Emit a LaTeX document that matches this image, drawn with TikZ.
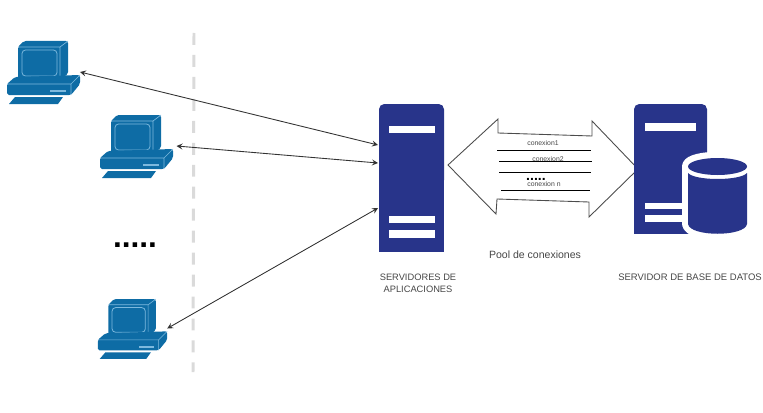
\documentclass[tikz,border=0pt]{standalone}
\usepackage{xcolor}
\usepackage{fontspec}
\setmainfont{Liberation Sans}
\usetikzlibrary{arrows,positioning,calc}
\definecolor{pcblue}{RGB}{14,108,165}
\definecolor{pcline}{RGB}{125,185,222}
\definecolor{serverblue}{RGB}{40,52,138}
\definecolor{dashgray}{RGB}{218,218,218}
\definecolor{labelgray}{RGB}{70,70,70}
\tikzset{
    pcbox/.style={inner sep=0pt, outer sep=0pt, minimum width=1.46cm, minimum height=1.28cm},
    link/.style={<->, >=stealth, black!80, line width=0.5pt},
    label/.style={labelgray, inner sep=0pt, align=center},
    poolline/.style={black, line width=0.45pt},
}
% computer drawn around the centre of its node: #1 position, #2 scale
\newcommand{\pcicon}[2]{
    \begin{scope}[shift={#1}, scale=#2, shift={(-36.5,-32)}]
        \fill[pcblue, rounded corners=1pt] (11,7) -- (17,1) -- (61,1) -- (61,34) -- (53,39) -- (11,39) -- cycle;
        \draw[pcline, line width=0.35pt] (11,7) -- (53,7) -- (61,1) (53,7) -- (53,39);
        \draw[pcline, line width=0.45pt, rounded corners=2pt] (15,10) rectangle (50,36);
        \fill[pcblue, rounded corners=1pt] (0,44) -- (8,37) -- (73,35) -- (73,44) -- (64,55) -- (0,55) -- cycle;
        \draw[pcline, line width=0.35pt] (0,44) -- (64,44) -- (73,35) (64,44) -- (64,55);
        \fill[pcline] (43,50) rectangle (59,52);
        \fill[pcblue] (2,64) -- (8,57) -- (56,57) -- (51,64) -- cycle;
    \end{scope}
}
\begin{document}
\begin{tikzpicture}[x=0.02cm, y=-0.02cm]
    \useasboundingbox (0,0) rectangle (763,412);

    % Dashed separator
    \draw[dashgray, line width=1.7pt, dash pattern=on 6.8pt off 5.7pt] (194,33) -- (193,372);

    % Client computers
    \node[pcbox] (pcone) at (43.5,72) {};
    \node[pcbox, outer sep=2pt] (pctwo) at (136.5,146) {};
    \node[pcbox, scale=0.95] (pcthree) at (132.5,328.5) {};
    \pcicon{(43.5,72)}{1}
    \pcicon{(136.5,146)}{1}
    \pcicon{(132.5,328.5)}{0.95}
    \node[font=\bfseries\fontsize{18}{18}\selectfont, inner sep=0pt, anchor=base] (dots) at (135,247) {.....};

    % Application server
    \node[inner sep=0pt, minimum width=1.3cm, minimum height=2.96cm] (appserver) at (411.5,178) {};
    \fill[serverblue, rounded corners=3pt] (379,180) -- (379,104) -- (444,104) -- (444,180);
    \fill[serverblue] (379,175) rectangle (444,252);
    \fill[white] (389,126) rectangle (435,133);
    \fill[white] (389,216) rectangle (435,223);
    \fill[white] (389,230) rectangle (435,238);
    \node[label, font=\fontsize{5.3}{6.8}\selectfont] (appname) at (418,283) {SERVIDORES DE\\APLICACIONES};

    % Connections to the clients
    \coordinate (appin1) at (378,145);
    \coordinate (appin2) at (378,163);
    \coordinate (appin3) at (378,208);
    \draw[link] (pcone.east) -- (appin1);
    \draw[link] (pctwo.east) -- (appin2);
    \draw[link] (pcthree.east) -- (appin3);

    % Connection pool arrow
    \draw[black!70, line width=0.5pt, fill=white] (448,165) -- (498,119) -- (498,133) -- (592,136) -- (592,121)
        -- (638,169) -- (589,217) -- (589,202) -- (497,199) -- (496,214) -- cycle;
    \draw[poolline] (497,150) -- (591,150);
    \draw[poolline] (499,161) -- (592,161);
    \draw[poolline] (499,172) -- (591,172);
    \draw[poolline] (501,190) -- (590,190);
    \node[label, font=\fontsize{3.9}{4}\selectfont] (conone) at (543,143) {conexion1};
    \node[label, font=\fontsize{3.9}{4}\selectfont] (contwo) at (548,159) {conexion2};
    \node[font=\bfseries\fontsize{8}{8}\selectfont, inner sep=0pt, anchor=base] (condots) at (536,180.5) {.....};
    \node[label, font=\fontsize{3.9}{4}\selectfont] (conn) at (544,184) {conexion n};
    \node[label, font=\fontsize{6}{7}\selectfont] (pool) at (535,255) {Pool de conexiones};

    % Database server
    \node[inner sep=0pt, minimum width=1.46cm, minimum height=2.6cm] (dbserver) at (670.5,169) {};
    \fill[serverblue, rounded corners=3pt] (634,180) -- (634,104) -- (707,104) -- (707,180);
    \fill[serverblue] (634,175) rectangle (707,234);
    \fill[white] (645,123) rectangle (696,131);
    \fill[white] (645,203) rectangle (690,209);
    \fill[white] (645,215) rectangle (690,222);

    % Database cylinder
    \draw[white, line width=6.8pt, line join=round, fill=white] (688,166) -- (688,224)
        .. controls (690,237) and (745,237) .. (747,224) -- (747,166) .. controls (745,155) and (690,155) .. (688,166) -- cycle;
    \fill[serverblue] (717.5,166.5) ellipse [x radius=29.5, y radius=8.5];
    \fill[serverblue] (688,173) .. controls (695,181) and (740,181) .. (747,173) -- (747,224)
        .. controls (745,237) and (690,237) .. (688,224) -- cycle;
    \node[label, font=\fontsize{5.4}{7}\selectfont] (dbname) at (690,277) {SERVIDOR DE BASE DE DATOS};
\end{tikzpicture}
\end{document}
